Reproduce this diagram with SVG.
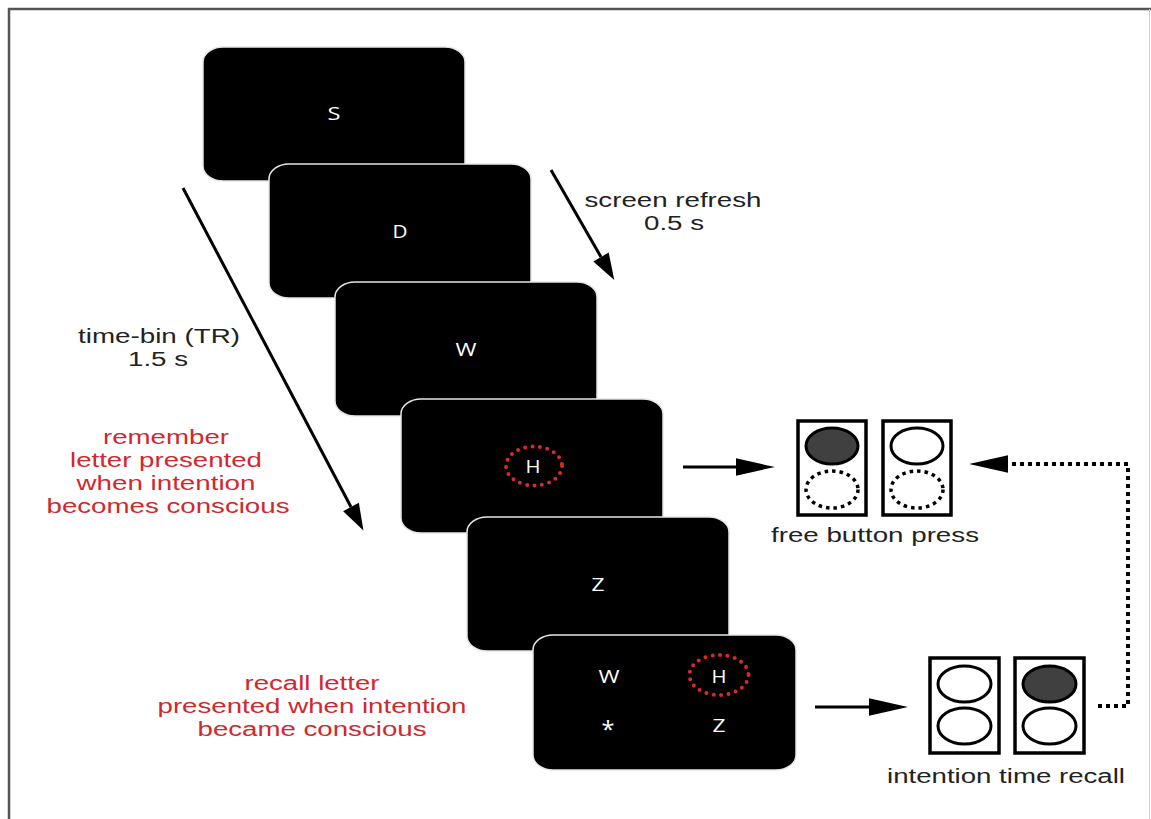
<svg xmlns="http://www.w3.org/2000/svg" width="1151" height="819" viewBox="0 0 1151 819">
<style>
.scr{fill:#000;stroke:#e6e6e6;stroke-width:1.5}
.let{fill:#fff;font-family:"Open Sans","DejaVu Sans",sans-serif;font-size:19px;text-anchor:middle}
.lbl{fill:#222;font-family:"Liberation Sans",Arial,sans-serif;font-size:19.5px;text-anchor:middle}
.red{fill:#d0282e}
.rdots{fill:none;stroke:#d82a2a;stroke-width:4;stroke-linecap:round;stroke-dasharray:0 7.4}
.box{fill:#fff;stroke:#000;stroke-width:3.5}
.full{fill:#404040;stroke:#000;stroke-width:3}
.open{fill:#fff;stroke:#000;stroke-width:3}
.dot{fill:none;stroke:#000;stroke-width:3.5;stroke-dasharray:3.5 4}
.arr{stroke:#000;stroke-width:3;fill:none}
</style>
<defs>
<marker id="ah" markerUnits="userSpaceOnUse" markerWidth="40" markerHeight="20" viewBox="0 -9 37 18" refX="0" refY="0" orient="auto" overflow="visible">
<path d="M0,-8 L36,0 L0,8 z" fill="#000"/>
</marker>
<marker id="ad" markerUnits="userSpaceOnUse" markerWidth="30" markerHeight="20" viewBox="0 -9 25 18" refX="0" refY="0" orient="auto" overflow="visible">
<path d="M0,-8 L24,0 L0,8 z" fill="#000"/>
</marker>
</defs>
<rect width="1151" height="819" fill="#fff"/>
<g id="frame">
<path d="M9,819 V9 H1151" fill="none" stroke="#555" stroke-width="2.5"/>
<line x1="1149.5" y1="9" x2="1149.5" y2="819" stroke="#d0d0d0" stroke-width="1"/>
</g>
<g id="screen-S"><rect class="scr" x="203" y="47" width="262" height="134" rx="20" ry="15"/><text class="let" x="334" y="120" textLength="13" lengthAdjust="spacingAndGlyphs">S</text></g>
<g id="screen-D"><rect class="scr" x="269" y="164" width="262" height="134" rx="20" ry="15"/><text class="let" x="400" y="238" textLength="15" lengthAdjust="spacingAndGlyphs">D</text></g>
<g id="screen-W"><rect class="scr" x="335" y="282" width="262" height="134" rx="20" ry="15"/><text class="let" x="466" y="356" textLength="21" lengthAdjust="spacingAndGlyphs">W</text></g>
<g id="screen-H"><rect class="scr" x="401" y="399" width="262" height="134" rx="20" ry="15"/><text class="let" x="533" y="473" textLength="15" lengthAdjust="spacingAndGlyphs">H</text><ellipse class="rdots" cx="534" cy="466" rx="28" ry="19.5"/></g>
<g id="screen-Z"><rect class="scr" x="467" y="517" width="262" height="134" rx="20" ry="15"/><text class="let" x="598" y="591" textLength="13" lengthAdjust="spacingAndGlyphs">Z</text></g>
<g id="screen-recall"><rect class="scr" x="533" y="635" width="263" height="135" rx="20" ry="15"/>
<text class="let" x="609" y="683" textLength="21" lengthAdjust="spacingAndGlyphs">W</text><text class="let" x="719" y="683" textLength="15" lengthAdjust="spacingAndGlyphs">H</text><ellipse class="rdots" cx="719" cy="675" rx="29.5" ry="20"/>
<text class="let" x="608" y="738" style="font-size:23px" textLength="13" lengthAdjust="spacingAndGlyphs">*</text><text class="let" x="719" y="732" textLength="13" lengthAdjust="spacingAndGlyphs">Z</text></g>
<g id="connectors">
<line class="arr" x1="183" y1="188" x2="351" y2="507" marker-end="url(#ad)"/>
<line class="arr" x1="551" y1="170" x2="601" y2="257" marker-end="url(#ad)"/>
<line class="arr" x1="683" y1="467" x2="736" y2="467" marker-end="url(#ah)"/>
<line class="arr" x1="815" y1="707" x2="869" y2="707" marker-end="url(#ah)"/>
<path d="M1098,706 H1128 V464 H1008" fill="none" stroke="#000" stroke-width="4" stroke-dasharray="4 4" marker-end="url(#ah)"/>
</g>
<g id="labels">
<text class="lbl" x="673" y="207" textLength="177" lengthAdjust="spacingAndGlyphs">screen refresh</text>
<text class="lbl" x="674" y="230" textLength="60" lengthAdjust="spacingAndGlyphs">0.5 s</text>
<text class="lbl" x="159" y="343" textLength="162" lengthAdjust="spacingAndGlyphs">time-bin (TR)</text>
<text class="lbl" x="158" y="366" textLength="60" lengthAdjust="spacingAndGlyphs">1.5 s</text>
<text class="lbl red" x="166" y="444" textLength="126" lengthAdjust="spacingAndGlyphs">remember</text>
<text class="lbl red" x="166" y="467" textLength="192" lengthAdjust="spacingAndGlyphs">letter presented</text>
<text class="lbl red" x="166" y="490" textLength="179" lengthAdjust="spacingAndGlyphs">when intention</text>
<text class="lbl red" x="168" y="513" textLength="243" lengthAdjust="spacingAndGlyphs">becomes conscious</text>
<text class="lbl red" x="312" y="690" textLength="135" lengthAdjust="spacingAndGlyphs">recall letter</text>
<text class="lbl red" x="312" y="713" textLength="309" lengthAdjust="spacingAndGlyphs">presented when intention</text>
<text class="lbl red" x="312" y="736" textLength="229" lengthAdjust="spacingAndGlyphs">became conscious</text>
</g>
<g id="free-button">
<rect class="box" x="798" y="421" width="68" height="94"/>
<ellipse class="full" cx="832" cy="446" rx="26" ry="18"/>
<ellipse class="dot" cx="832" cy="489.5" rx="26" ry="18.5"/>
<rect class="box" x="883" y="421" width="68" height="94"/>
<ellipse class="open" cx="917" cy="446" rx="26" ry="18"/>
<ellipse class="dot" cx="917" cy="489.5" rx="26" ry="18.5"/>
<text class="lbl" x="875" y="542" textLength="208" lengthAdjust="spacingAndGlyphs">free button press</text>
</g>
<g id="intention-recall">
<rect class="box" x="930" y="658" width="69" height="95"/>
<ellipse class="open" cx="964.5" cy="684" rx="26.5" ry="18"/>
<ellipse class="open" cx="964.5" cy="726" rx="26.5" ry="18"/>
<rect class="box" x="1015" y="658" width="69" height="95"/>
<ellipse class="full" cx="1049.5" cy="684" rx="26.5" ry="18"/>
<ellipse class="open" cx="1049.5" cy="726" rx="26.5" ry="18"/>
<text class="lbl" x="1006" y="783" textLength="238" lengthAdjust="spacingAndGlyphs">intention time recall</text>
</g>
</svg>
